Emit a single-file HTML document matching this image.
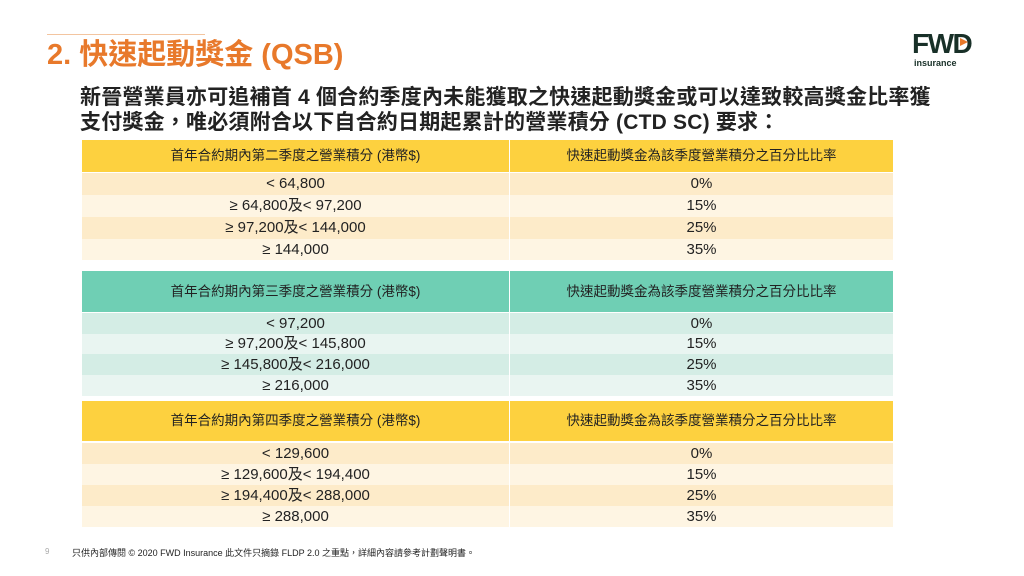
<!DOCTYPE html>
<html><head><meta charset="utf-8"><style>
*{margin:0;padding:0;box-sizing:border-box}
body{width:1024px;height:576px;background:#fff;position:relative;overflow:hidden;font-family:"Liberation Sans","Noto Sans CJK TC",sans-serif;color:#222}
.a{position:absolute}
.t{position:absolute;left:82px;width:811px}
.r{display:flex;width:811px}
.r div{flex:none;text-align:center;font-size:15px;color:#222;white-space:nowrap}
.r div:first-child{width:428px;border-right:1px solid #fff}
.r div:last-child{width:383px}
.h div{font-size:13.5px}
</style></head><body>
<div class="a" style="left:47px;top:34px;width:158px;height:1px;background:#f3c5a0"></div>
<div class="a" style="left:47px;top:36px;font-size:29px;color:#e8792b;font-weight:bold;line-height:38px">2. 快速起動獎金 (QSB)</div>
<div class="a" style="left:912px;top:30px;font-size:28px;font-weight:900;color:#183028;letter-spacing:-1.5px;line-height:28px">FW<span style="position:relative">D<span style="position:absolute;left:7px;top:10px;width:0;height:0;border-left:8px solid #e8792b;border-top:4px solid transparent;border-bottom:4px solid transparent"></span></span></div>
<div class="a" style="left:914px;top:58px;font-size:9px;font-weight:bold;color:#183028">insurance</div>
<div class="a" style="left:80px;top:85px;font-size:21px;letter-spacing:0.2px;font-weight:bold;line-height:25px;color:#222;white-space:nowrap">新晉營業員亦可追補首 4 個合約季度內未能獲取之快速起動獎金或可以達致較高獎金比率獲<br>支付獎金，唯必須附合以下自合約日期起累計的營業積分 (CTD SC) 要求：</div>

<div class="t" style="top:140px">
<div class="r h" style="background:#fdd13f;height:32px;line-height:32px"><div>首年合約期內第二季度之營業積分 (港幣$)</div><div>快速起動獎金為該季度營業積分之百分比比率</div></div>
<div style="height:1px"></div>
<div class="r" style="background:#fdebc9;height:22px;line-height:22px"><div>&lt; 64,800</div><div>0%</div></div>
<div class="r" style="background:#fef5e3;height:22px;line-height:22px"><div>≥ 64,800及&lt; 97,200</div><div>15%</div></div>
<div class="r" style="background:#fdebc9;height:22px;line-height:22px"><div>≥ 97,200及&lt; 144,000</div><div>25%</div></div>
<div class="r" style="background:#fef5e3;height:21px;line-height:21px"><div>≥ 144,000</div><div>35%</div></div>
</div>

<div class="t" style="top:271px">
<div class="r h" style="background:#6fcfb4;height:41px;line-height:41px"><div>首年合約期內第三季度之營業積分 (港幣$)</div><div>快速起動獎金為該季度營業積分之百分比比率</div></div>
<div style="height:1px"></div>
<div class="r" style="background:#d4ede5;height:21px;line-height:21px"><div>&lt; 97,200</div><div>0%</div></div>
<div class="r" style="background:#e9f5f1;height:20px;line-height:20px"><div>≥ 97,200及&lt; 145,800</div><div>15%</div></div>
<div class="r" style="background:#d4ede5;height:21px;line-height:21px"><div>≥ 145,800及&lt; 216,000</div><div>25%</div></div>
<div class="r" style="background:#e9f5f1;height:21px;line-height:21px"><div>≥ 216,000</div><div>35%</div></div>
</div>

<div class="t" style="top:401px">
<div class="r h" style="background:#fdd13f;height:40px;line-height:40px"><div>首年合約期內第四季度之營業積分 (港幣$)</div><div>快速起動獎金為該季度營業積分之百分比比率</div></div>
<div style="height:2px"></div>
<div class="r" style="background:#fdebc9;height:21px;line-height:21px"><div>&lt; 129,600</div><div>0%</div></div>
<div class="r" style="background:#fef5e3;height:21px;line-height:21px"><div>≥ 129,600及&lt; 194,400</div><div>15%</div></div>
<div class="r" style="background:#fdebc9;height:21px;line-height:21px"><div>≥ 194,400及&lt; 288,000</div><div>25%</div></div>
<div class="r" style="background:#fef5e3;height:21px;line-height:21px"><div>≥ 288,000</div><div>35%</div></div>
</div>

<div class="a" style="left:45px;top:547px;font-size:8px;color:#aaa">9</div>
<div class="a" style="left:72px;top:546px;font-size:9px;color:#222">只供內部傳閱 © 2020 FWD Insurance 此文件只摘錄 FLDP 2.0 之重點，詳細內容請參考計劃聲明書。</div>
</body></html>
